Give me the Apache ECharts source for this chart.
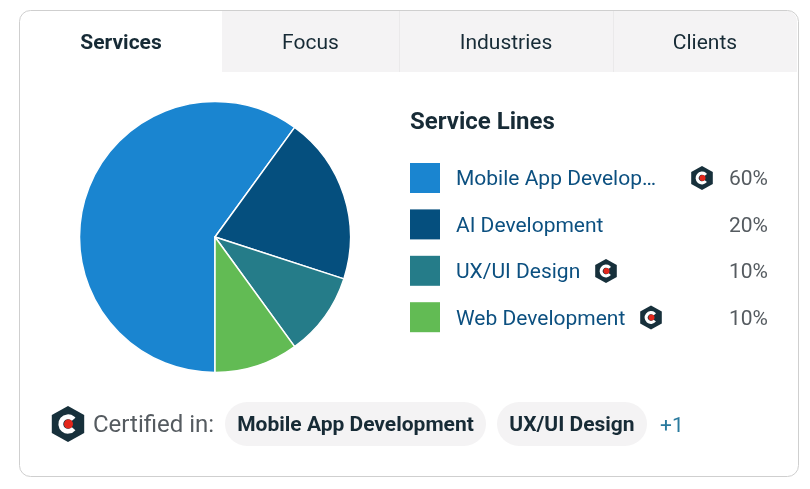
<!DOCTYPE html>
<html>
<head>
<meta charset="utf-8">
<style>
  html, body { margin: 0; padding: 0; background: #fff; }
  #chart { width: 810px; height: 489px; }
</style>
<script src="https://cdn.jsdelivr.net/npm/echarts@6/dist/echarts.min.js"></script>
</head>
<body>
<div id="chart"></div>
<script>
// Service mix shown in the profile card
const serviceNames = ['Mobile App Development', 'AI Development', 'UX/UI Design', 'Web Development'];
const serviceShares = [60, 20, 10, 10];
const serviceColors = ['#1a85d0', '#054f7e', '#257c89', '#62bb54'];
const serviceCertified = [true, false, true, true];
const tabNames = ['Services', 'Focus', 'Industries', 'Clients'];
const certifiedPills = ['Mobile App Development', 'UX/UI Design'];

const FONT = 'Roboto, sans-serif';
const INK = '#172b36';
const GREY = '#555b60';
const TAB_BG = '#f4f3f4';

const chart = echarts.init(document.getElementById('chart'), null, { renderer: 'canvas' });

// Hexagonal "certified" badge centred on (cx, cy)
function badge(cx, cy, r) {
  const w = r * 0.9;
  const points = [
    [cx, cy - r], [cx + w, cy - r / 2], [cx + w, cy + r / 2],
    [cx, cy + r], [cx - w, cy + r / 2], [cx - w, cy - r / 2]
  ];
  return [
    { type: 'polygon', silent: true, z: 5, shape: { points }, style: { fill: '#17303b' } },
    {
      type: 'arc', silent: true, z: 6,
      shape: { cx, cy, r: r * 0.4, startAngle: Math.PI * 0.22, endAngle: Math.PI * 1.78, clockwise: true },
      style: { fill: null, stroke: '#fff', lineWidth: r * 0.27 }
    },
    { type: 'circle', silent: true, z: 7, shape: { cx: cx + 0.5, cy, r: r * 0.25 }, style: { fill: '#e3261b' } }
  ];
}

function label(x, y, text, font, fill, align) {
  return {
    type: 'text', silent: true, z: 8, x, y,
    style: { text, font, fill, align: align || 'left', verticalAlign: 'middle' }
  };
}

const graphics = [];

// Tab strip
const tabEdges = [20, 222, 399, 613, 797];
graphics.push({
  type: 'rect', silent: true, z: 1,
  shape: { x: tabEdges[1], y: 11, width: tabEdges[4] - tabEdges[1], height: 61, r: [0, 10, 0, 0] },
  style: { fill: TAB_BG }
});
[2, 3].forEach(i => graphics.push({
  type: 'line', silent: true, z: 2,
  shape: { x1: tabEdges[i] + 0.5, y1: 11, x2: tabEdges[i] + 0.5, y2: 72 },
  style: { stroke: '#eae9ea', lineWidth: 1 }
}));
tabNames.forEach((name, i) => {
  const mid = (tabEdges[i] + tabEdges[i + 1]) / 2;
  graphics.push(label(mid, 44, name, (i === 0 ? 'bold ' : '') + '21px ' + FONT, INK, 'center'));
});

// Card outline
graphics.push({
  type: 'rect', silent: true, z: 3,
  shape: { x: 19.5, y: 10.5, width: 779, height: 466, r: 11 },
  style: { fill: null, stroke: '#cfcfcf', lineWidth: 1 }
});

// Legend heading, row names, percentages and badges
graphics.push(label(410, 123, 'Service Lines', 'bold 24px ' + FONT, INK));
const rowY = [178, 224.5, 271, 317.5];
const badgeX = [702, null, 606, 651];
serviceNames.forEach((name, i) => {
  const row = label(456, rowY[i] + 2, name, '21px ' + FONT, '#0c5080');
  row.style.width = 219;
  row.style.overflow = 'truncate';
  row.style.ellipsis = '\u2026';
  graphics.push(row);
  graphics.push(label(768, rowY[i] + 2, serviceShares[i] + '%', '21px ' + FONT, GREY, 'right'));
  if (serviceCertified[i]) graphics.push(...badge(badgeX[i], rowY[i], 12));
});

// Certification footer
graphics.push(...badge(68, 424, 18));
graphics.push(label(93, 426, 'Certified in:', '24px ' + FONT, GREY));
const pillEdges = [[225, 486], [497, 647]];
certifiedPills.forEach((name, i) => {
  const [a, b] = pillEdges[i];
  graphics.push({
    type: 'rect', silent: true, z: 2,
    shape: { x: a, y: 402, width: b - a, height: 44, r: 22 },
    style: { fill: TAB_BG }
  });
  graphics.push(label((a + b) / 2, 426, name, 'bold 21px ' + FONT, INK, 'center'));
});
graphics.push(label(660, 427, '+1', '21px ' + FONT, '#2a7a9e'));

chart.setOption({
  animation: false,
  backgroundColor: '#fff',
  color: serviceColors,
  legend: {
    orient: 'vertical',
    left: 410,
    top: 163,
    padding: 0,
    icon: 'rect',
    itemWidth: 30,
    itemHeight: 30,
    itemGap: 16.4,
    selectedMode: false,
    itemStyle: { borderWidth: 0 },
    data: serviceNames,
    formatter: () => ''
  },
  series: [{
    type: 'pie',
    center: [215, 237],
    radius: 135.5,
    startAngle: 270,
    clockwise: true,
    label: { show: false },
    labelLine: { show: false },
    silent: true,
    itemStyle: { borderColor: '#fff', borderWidth: 1.5 },
    data: serviceNames.map((name, i) => ({ name, value: serviceShares[i] }))
  }],
  graphic: { elements: graphics }
});
</script>
</body>
</html>
